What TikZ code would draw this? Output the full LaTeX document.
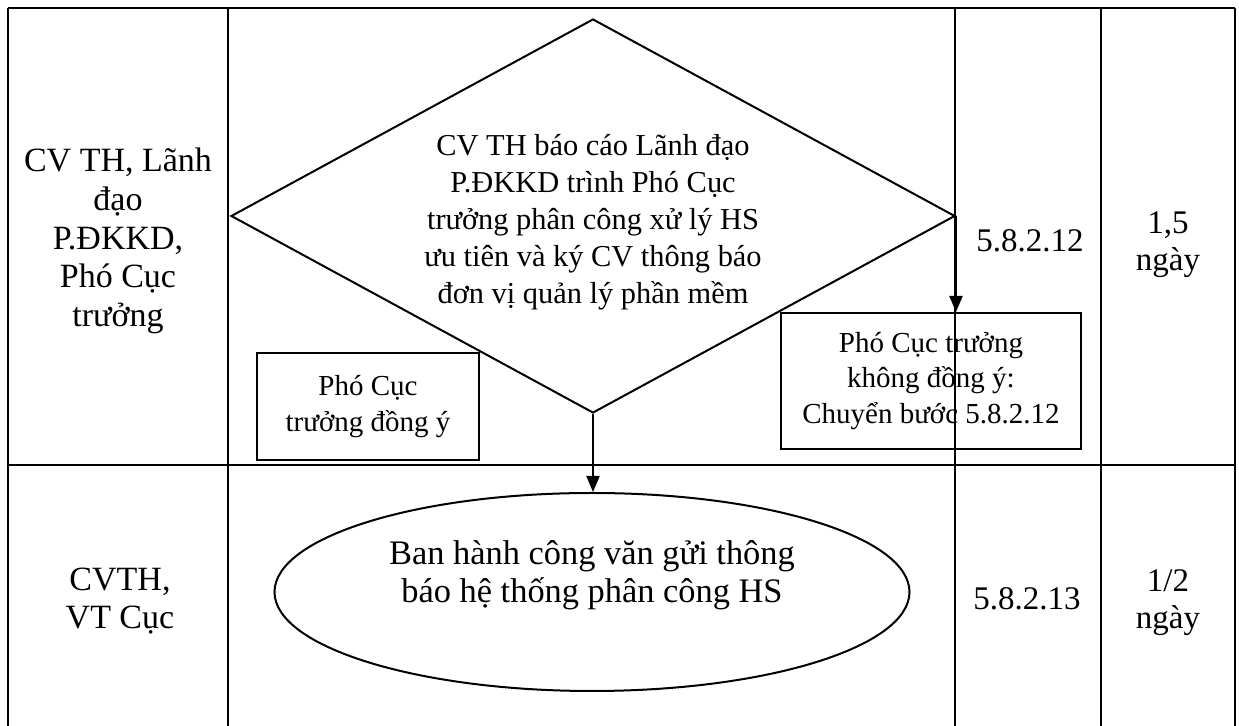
\documentclass[tikz,border=0pt]{standalone}
\usepackage{fontspec}
\setmainfont{Liberation Serif}
\usetikzlibrary{shapes.geometric,arrows.meta,calc}
\begin{document}
\begin{tikzpicture}[x=0.5pt,y=-0.5pt,line width=1pt,
  tline/.style={line width=1pt},
  arr/.style={-{Triangle[length=8pt,width=6.5pt]},line width=1pt},
  lanefont/.style={font=\fontsize{17pt}{19.4pt}\selectfont,align=center,inner sep=0},
  cellfont/.style={font=\fontsize{16.5pt}{18.5pt}\selectfont,align=center,inner sep=0},
  decfont/.style={font=\fontsize{15.2pt}{18.5pt}\selectfont,align=center,inner sep=0},
  ellfont/.style={font=\fontsize{17.2pt}{19pt}\selectfont,align=center,inner sep=0},
  boxnode/.style={draw,line width=1pt,font=\fontsize{14.5pt}{17.8pt}\selectfont,align=center,inner sep=0}]
\useasboundingbox (0,0) rectangle (1239,726);
\fill[white] (0,0) rectangle (1239,726);
% table
\draw[tline] (8,8) -- (1235,8);
\draw[tline] (8,465) -- (1235,465);
\foreach \x in {8,228,955,1101,1235} \draw[tline] (\x,8) -- (\x,726);
% lane labels
\node[lanefont] (lane1) at (118,241) {CV TH, Lãnh\\đạo\\P.ĐKKD,\\Phó Cục\\trưởng};
\node[lanefont] (lane2) at (120,601) {CVTH,\\VT Cục};
% step numbers and times
\node[cellfont] (step1) at (1030,241) {5.8.2.12};
\node[cellfont] (time1) at (1168,245) {1,5\\ngày};
\node[cellfont] (step2) at (1027,599) {5.8.2.13};
\node[cellfont] (time2) at (1168,603) {1/2\\ngày};
% decision
\node[diamond,draw,line width=1pt,minimum width=362pt,minimum height=197pt,inner sep=0] (dec) at (593,216) {};
\node[decfont] (dectext) at (593,222) {CV TH báo cáo Lãnh đạo\\P.ĐKKD trình Phó Cục\\trưởng phân công xử lý HS\\ưu tiên và ký CV thông báo\\đơn vị quản lý phần mềm};
% branch boxes
\node[boxnode,minimum width=111pt,minimum height=53.5pt] (yes) at (368,406.5) {Phó Cục\\trưởng đồng ý};
\node[boxnode,minimum width=150pt,minimum height=68pt] (no) at (931,381) {Phó Cục trưởng\\không đồng ý:\\Chuyển bước 5.8.2.12};
% end ellipse
\node[ellipse,draw,line width=1pt,minimum width=317.5pt,minimum height=99pt,inner sep=0] (ell) at (592,592) {};
\node[ellfont] (elltext) at (592,575) {Ban hành công văn gửi thông\\báo hệ thống phân công HS};
% connectors
\draw[arr] (dec.south) -- (dec.south |- ell.north);
\draw[arr] (dec.east) -- (dec.east |- no.north);
\end{tikzpicture}
\end{document}
